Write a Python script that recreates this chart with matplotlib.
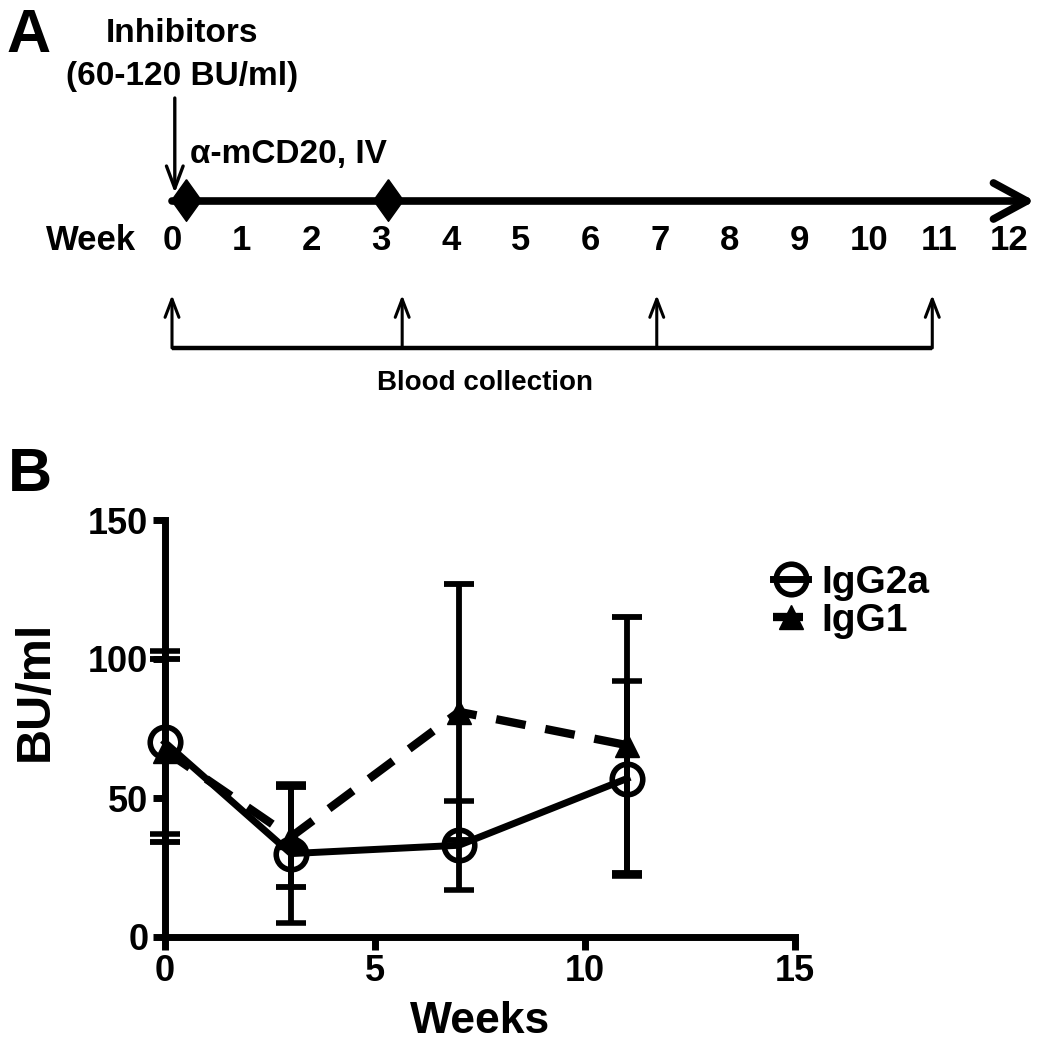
import matplotlib
matplotlib.use('Agg')
import matplotlib.pyplot as plt

plt.rcParams['font.family'] = ['Liberation Sans', 'DejaVu Sans']
plt.rcParams['font.weight'] = 'bold'

# ---- panel A: study timeline (weeks) ----
week_ticks = list(range(13))
dose_weeks = [0.2, 3.1]            # anti-mCD20 IV injections
blood_weeks = [0.0, 3.3, 6.95, 10.9]  # blood collection

# ---- panel B: inhibitor titers ----
weeks = [0, 3, 7, 11]
igg2a_mean = [70, 30, 33, 57]
igg2a_sem = [33, 25, 16, 35]
igg1_mean = [67, 36, 81, 69]
igg1_sem = [33, 18, 46, 46]

W, H = 1046, 1050
fig = plt.figure(figsize=(W / 100, H / 100), dpi=100)


def fx(px):
    return px / W


def fy(py):
    return 1 - py / H


# timeline axes: x in weeks, y in pixel rows of the top 420 px
x0, step = 172, 69.75
ax_a = fig.add_axes([0, fy(420), 1, 420 / H])
ax_a.set_xlim(-x0 / step, (W - x0) / step)
ax_a.set_ylim(420, 0)
ax_a.axis('off')

ax_a.annotate('', xy=(12.37, 201), xytext=(0.0, 201),
              arrowprops=dict(arrowstyle='->,head_length=2.4,head_width=1.3',
                              lw=5.5, color='k', shrinkA=0, shrinkB=0,
                              mutation_scale=10, capstyle='round'))
diamond = [(0, 1.4), (1, 0), (0, -1.4), (-1, 0), (0, 1.4)]
ax_a.plot(dose_weeks, [200] * len(dose_weeks), ls='none', marker=diamond,
          ms=30, color='k')

ax_a.annotate('', xy=(0.04, 193), xytext=(0.04, 98),
              arrowprops=dict(arrowstyle='->,head_length=1.6,head_width=0.6',
                              lw=2.4, color='k', shrinkA=0, shrinkB=0,
                              mutation_scale=10))

for w in blood_weeks:
    ax_a.annotate('', xy=(w, 295), xytext=(w, 348),
                  arrowprops=dict(arrowstyle='->,head_length=1.3,head_width=0.5',
                                  lw=2.2, color='k', shrinkA=0, shrinkB=0,
                                  mutation_scale=10))
ax_a.plot([blood_weeks[0], blood_weeks[-1]], [348, 348], color='k', lw=3.2,
          solid_capstyle='butt')

for w in week_ticks:
    ax_a.text(w, 240, str(w), ha='center', va='center', fontsize=25,
              fontweight='bold')
fig.text(fx(91), fy(240), 'Week', ha='center', va='center', fontsize=25,
         fontweight='bold')

fig.text(fx(6), fy(8), 'A', ha='left', va='top', fontsize=44, fontweight='bold')
fig.text(fx(182), fy(33), 'Inhibitors', ha='center', va='center', fontsize=24,
         fontweight='bold')
fig.text(fx(182), fy(77), '(60-120 BU/ml)', ha='center', va='center',
         fontsize=24, fontweight='bold')
fig.text(fx(190), fy(155), 'α-mCD20, IV', ha='left', va='center', fontsize=24,
         fontweight='bold')
fig.text(fx(485), fy(383), 'Blood collection', ha='center', va='center',
         fontsize=20, fontweight='bold')
fig.text(fx(8), fy(447), 'B', ha='left', va='top', fontsize=44,
         fontweight='bold')

# ---- panel B plot ----
ax = fig.add_axes([fx(165), fy(937), 630 / W, 417 / H])
e1 = ax.errorbar(weeks, igg2a_mean, yerr=igg2a_sem, color='k', lw=5,
                 marker='o', ms=22, mfc='none', mec='k', mew=4,
                 elinewidth=4.2, capsize=11, capthick=4.2, clip_on=False,
                 zorder=3)
e2 = ax.errorbar(weeks, igg1_mean, yerr=igg1_sem, color='k', lw=6,
                 ls=(0, (3.6, 2.4)), marker='^', ms=17, mfc='k', mec='k',
                 elinewidth=4.2, capsize=11, capthick=4.2, clip_on=False,
                 zorder=3)
for c in (e1, e2):
    for art in c.lines[1] + c.lines[2]:
        art.set_clip_on(False)

ax.set_xlim(0, 15)
ax.set_ylim(0, 150)
ax.set_xticks([0, 5, 10, 15])
ax.set_yticks([0, 50, 100, 150])
for s in ['top', 'right']:
    ax.spines[s].set_visible(False)
for s in ['left', 'bottom']:
    ax.spines[s].set_linewidth(5)
ax.tick_params(length=9, width=5, labelsize=26, pad=3)
for lab in ax.get_xticklabels() + ax.get_yticklabels():
    lab.set_fontweight('bold')
ax.set_xlabel('Weeks', fontsize=32, fontweight='bold', labelpad=9)
ax.set_ylabel('BU/ml', fontsize=35, fontweight='bold')
ax.yaxis.set_label_coords(-0.17, 0.59)

fig.legend([e1.lines[0], e2.lines[0]], ['IgG2a', 'IgG1'], loc='upper left',
           bbox_to_anchor=(fx(738), fy(530)), frameon=False, fontsize=28,
           handlelength=0.9, handletextpad=0.35, labelspacing=0.05)

fig.savefig('out.png', dpi=100)
